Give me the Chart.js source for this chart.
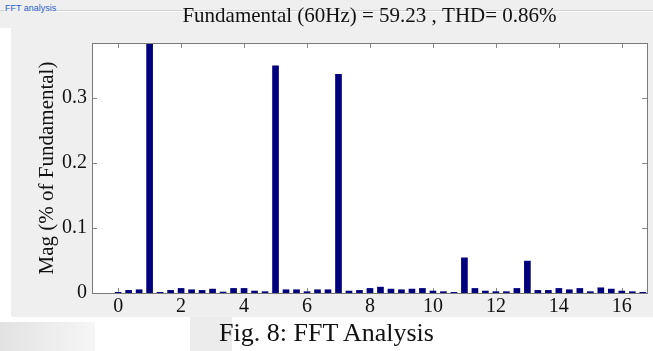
<!DOCTYPE html>
<html>
<head>
<meta charset="utf-8">
<script src="https://cdn.jsdelivr.net/npm/chart.js@4.4.1/dist/chart.umd.min.js"></script>
<style>
  html, body { margin: 0; padding: 0; background: #ffffff; }
  #wrap { position: relative; width: 653px; height: 351px; overflow: hidden; background: #ffffff; }
  .bg1 { position: absolute; left: 11px; top: 0; width: 642px; height: 317px; background: #efefef; }
  .bg2 { position: absolute; left: 0; top: 0; width: 11px; height: 28px; background: #efefef; }
  .bg3 { position: absolute; left: 0; top: 322px; width: 95px; height: 29px; background: linear-gradient(90deg, #e2e2e2, #f6f6f6); }
  .bg4 { position: absolute; left: 190px; top: 317px; width: 42px; height: 34px; background: #ececec; }
  #c { position: absolute; left: 0; top: 0; }
  .panel { position: absolute; left: 5px; top: 3px; font: 9px "Liberation Sans", Arial, sans-serif; color: #2a5fc8; line-height: 10px; }
  .pline { position: absolute; left: 55px; top: 10px; width: 598px; height: 1px; background: #d2d2d2; border-bottom: 1px solid #ffffff; }
  .pline0 { position: absolute; left: 0px; top: 10px; width: 4px; height: 1px; background: #d2d2d2; }
  .caption { position: absolute; left: 0; width: 653px; top: 318px; text-align: center; font: 26px "Liberation Serif", "Times New Roman", serif; color: #111; line-height: 30px; }
</style>
</head>
<body>
<div id="wrap">
  <div class="bg1"></div>
  <div class="bg2"></div>
  <div class="bg3"></div>
  <div class="bg4"></div>
  <div class="pline0"></div>
  <div class="pline"></div>
  <div class="panel">FFT analysis</div>
  <canvas id="c" width="653" height="351"></canvas>
  <div class="caption">Fig. 8: FFT Analysis</div>
</div>
<script>
// Harmonic orders (20 Hz bins on a 60 Hz fundamental)
const orders = [0, 1/3, 2/3, 1, 4/3, 5/3, 2, 7/3, 8/3, 3, 10/3, 11/3, 4, 13/3, 14/3, 5, 16/3, 17/3,
  6, 19/3, 20/3, 7, 22/3, 23/3, 8, 25/3, 26/3, 9, 28/3, 29/3, 10, 31/3, 32/3, 11, 34/3, 35/3,
  12, 37/3, 38/3, 13, 40/3, 41/3, 14, 43/3, 44/3, 15, 46/3, 47/3, 16, 49/3, 50/3];
// Magnitude (% of fundamental)
const mags = [0.001, 0.004, 0.005, 100, 0.001, 0.004, 0.007, 0.005, 0.004, 0.006, 0.0015, 0.007,
  0.007, 0.003, 0.002, 0.349, 0.005, 0.005, 0.002, 0.005, 0.005, 0.336, 0.003, 0.004,
  0.007, 0.009, 0.006, 0.005, 0.006, 0.007, 0.003, 0.002, 0.001, 0.054, 0.007, 0.003,
  0.002, 0.002, 0.007, 0.049, 0.004, 0.004, 0.007, 0.005, 0.007, 0.002, 0.008, 0.006,
  0.003, 0.002, 0.001];
const xTicks = [0, 2, 4, 6, 8, 10, 12, 14, 16];
const xTickLabels = ['0', '2', '4', '6', '8', '10', '12', '14', '16'];
const yTicks = [0, 0.1, 0.2, 0.3];
const yTickLabels = ['0', '0.1', '0.2', '0.3'];
const titleText = 'Fundamental (60Hz) = 59.23 , THD= 0.86%';
const yTitle = 'Mag (% of Fundamental)';

const serif = '"Liberation Serif", "Times New Roman", serif';
const TICK = 5;

const framePlugin = {
  id: 'framePlugin',
  beforeDraw(chart) {
    const { ctx, chartArea: a } = chart;
    ctx.save();
    ctx.fillStyle = '#ffffff';
    ctx.fillRect(a.left, a.top, a.right - a.left, a.bottom - a.top);
    ctx.restore();
  },
  beforeDatasetsDraw(chart) {
    const { ctx, chartArea: a, scales } = chart;
    ctx.save();
    ctx.strokeStyle = '#8a8a8a';
    ctx.lineWidth = 1;
    ctx.beginPath();
    xTicks.forEach(v => {
      const px = Math.round(scales.x.getPixelForValue(v)) + 0.5;
      ctx.moveTo(px, a.top); ctx.lineTo(px, a.top + TICK);
      ctx.moveTo(px, a.bottom); ctx.lineTo(px, a.bottom - TICK);
    });
    yTicks.forEach(v => {
      const py = Math.round(scales.y.getPixelForValue(v)) + 0.5;
      ctx.moveTo(a.left, py); ctx.lineTo(a.left + TICK, py);
      ctx.moveTo(a.right, py); ctx.lineTo(a.right - TICK, py);
    });
    ctx.stroke();
    ctx.restore();
  },
  afterDatasetsDraw(chart) {
    const { ctx, chartArea: a } = chart;
    ctx.save();
    ctx.strokeStyle = '#7a7a7a';
    ctx.lineWidth = 1;
    ctx.strokeRect(Math.round(a.left) + 0.5, Math.round(a.top) + 0.5,
      Math.round(a.right - a.left), Math.round(a.bottom - a.top));
    ctx.restore();
  }
};

new Chart(document.getElementById('c'), {
  type: 'bar',
  data: {
    datasets: [{
      data: orders.map((x, i) => ({ x: x, y: mags[i] })),
      backgroundColor: '#00007d',
      borderColor: '#000050',
      borderWidth: 0,
      barThickness: 6
    }]
  },
  options: {
    responsive: false,
    animation: false,
    devicePixelRatio: 1,
    layout: { padding: { top: 0, right: 6, left: 0, bottom: 0 } },
    plugins: {
      legend: { display: false },
      tooltip: { enabled: false },
      title: {
        display: true,
        text: titleText,
        fullSize: false,
        color: '#111111',
        font: { family: serif, size: 21, weight: 'normal', lineHeight: 1.2 },
        padding: { top: 3.4, bottom: 14.4 }
      }
    },
    scales: {
      x: {
        type: 'linear',
        min: -0.83,
        max: 16.8,
        offset: false,
        grid: { display: false, drawTicks: false },
        border: { display: false },
        afterBuildTicks: s => { s.ticks = xTicks.map(v => ({ value: v })); },
        ticks: {
          autoSkip: false, maxRotation: 0, padding: 2, color: '#111111',
          font: { family: serif, size: 20 },
          callback: (v, i) => xTickLabels[i]
        },
        afterFit: s => { s.height = 58; }
      },
      y: {
        min: 0,
        max: 0.384,
        grid: { display: false, drawTicks: false },
        border: { display: false },
        afterBuildTicks: s => { s.ticks = yTicks.map(v => ({ value: v })); },
        ticks: {
          autoSkip: false, padding: 5, color: '#111111',
          font: { family: serif, size: 20 },
          callback: (v, i) => yTickLabels[i]
        },
        title: {
          display: true, text: yTitle, color: '#111111',
          font: { family: serif, size: 21, weight: 'normal', lineHeight: 1.2 },
          padding: { top: 35, bottom: 0 }
        },
        afterFit: s => { s.width = 92; }
      }
    }
  },
  plugins: [framePlugin]
});
</script>
</body>
</html>
